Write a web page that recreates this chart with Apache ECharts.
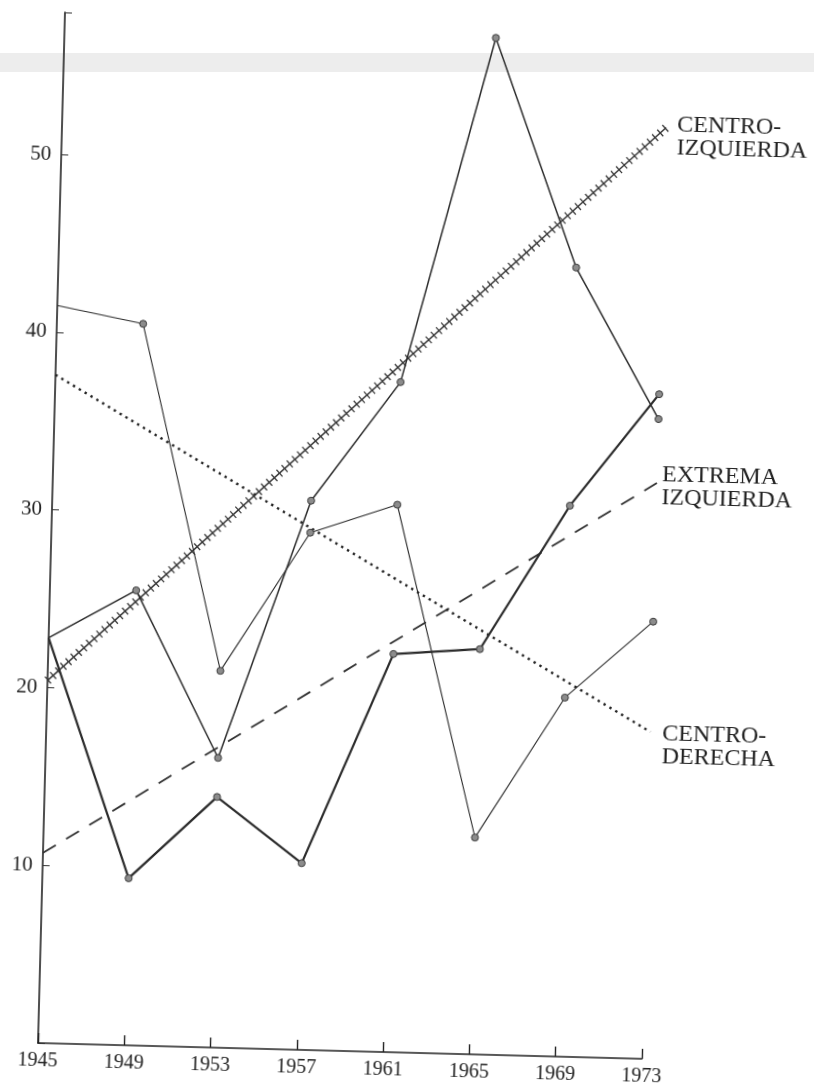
<!DOCTYPE html>
<html><head><meta charset="utf-8">
<script src="https://cdn.jsdelivr.net/npm/echarts@6/dist/echarts.min.js"></script>
<style>
html,body{margin:0;padding:0;background:#fff;width:814px;height:1089px;overflow:hidden}
#band{position:absolute;left:0;top:53px;width:814px;height:19px;background:#ededed}
#chart{position:absolute;left:0;top:0;width:814px;height:1089px;transform:rotate(1.5deg);transform-origin:38px 1043px}
</style></head><body>
<div id="band"></div>
<div id="chart"></div>
<script>
const baseYear = 1945;
const years = [1945, 1949, 1953, 1957, 1961, 1965, 1969, 1973];
const serieA = [41.5, 40.6, 21.2, 29.1, 30.8, 12.2, 20.2, 24.6];
const serieB = [22.8, 25.6, 16.3, 30.9, 37.7, 57.2, 44.4, 36.0];
const serieC = [22.8, 9.4, 14.1, 10.5, 22.4, 22.8, 31.0, 37.4];
const trendYears = [1945, 1973];
const centroIzquierda = [20.4, 52.4];
const extremaIzquierda = [10.7, 32.4];
const centroDerecha = [37.6, 18.4];
const yTickLabels = [10, 20, 30, 40, 50];

const serif = 'Liberation Serif';
const pairs = (xs, vs) => xs.map((x, i) => [x - baseYear, vs[i]]);

function dataSeries(name, vals, width) {
  return {
    name, type: 'line', silent: true, z: 3,
    data: pairs(years, vals).map((p, i) => i === 0 ? { value: p, symbol: 'none' } : { value: p }),
    symbol: 'circle', symbolSize: 7, showSymbol: true,
    lineStyle: { color: '#2b2b2b', width },
    itemStyle: { color: '#8c8c8c', borderColor: '#3a3a3a', borderWidth: 1 }
  };
}
const labelStyle = { show: true, fontFamily: serif, fontSize: 24, lineHeight: 23, color: '#222', distance: 0, align: 'left' };

const chart = echarts.init(document.getElementById('chart'), null, { renderer: 'canvas' });
chart.setOption({
  animation: false,
  backgroundColor: 'transparent',
  grid: { left: 38, top: 12, right: 172, bottom: 46, containLabel: false },
  xAxis: {
    type: 'value', min: 0, max: 28, interval: 4,
    axisLine: { show: true, lineStyle: { color: '#222', width: 1.6 } },
    axisTick: { show: true, inside: true, length: 10, lineStyle: { color: '#222', width: 1.4 } },
    axisLabel: { formatter: v => String(v + baseYear), fontFamily: serif, fontSize: 20, color: '#222', margin: 8 },
    splitLine: { show: false }
  },
  yAxis: {
    type: 'value', min: 0, max: 58, interval: 10,
    axisLine: { show: true, lineStyle: { color: '#222', width: 1.6 } },
    axisTick: { show: true, inside: true, length: 7, lineStyle: { color: '#333', width: 1 } },
    axisLabel: { formatter: v => yTickLabels.includes(v) ? String(v) : '', fontFamily: serif, fontSize: 21, color: '#222', margin: 10 },
    splitLine: { show: false }
  },
  series: [
    { type: 'line', silent: true, z: 2, symbol: 'none', data: pairs(trendYears, centroIzquierda),
      lineStyle: { color: '#333', width: 1.4 } },
    { type: 'line', silent: true, z: 2, symbol: 'none', data: pairs(trendYears, centroIzquierda),
      lineStyle: { color: '#3a3a3a', width: 9, type: [1.3, 5.6], cap: 'butt' },
      endLabel: Object.assign({}, labelStyle, { formatter: 'CENTRO-\nIZQUIERDA', offset: [11, 9] }) },
    { type: 'line', silent: true, z: 2, symbol: 'none', data: pairs(trendYears, extremaIzquierda),
      lineStyle: { color: '#333', width: 1.8, type: [15, 12], cap: 'butt' },
      endLabel: Object.assign({}, labelStyle, { formatter: 'EXTREMA\nIZQUIERDA', offset: [5, 3] }) },
    { type: 'line', silent: true, z: 2, symbol: 'none', data: pairs(trendYears, centroDerecha),
      lineStyle: { color: '#222', width: 2.4, type: [2.4, 4.4], cap: 'butt' },
      endLabel: Object.assign({}, labelStyle, { formatter: 'CENTRO-\nDERECHA', offset: [12, 13] }) },
    dataSeries('A', serieA, 1.1),
    dataSeries('B', serieB, 1.5),
    dataSeries('C', serieC, 2.2)
  ]
});
</script>
</body></html>
